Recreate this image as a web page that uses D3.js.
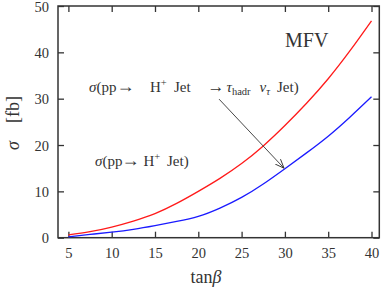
<!DOCTYPE html>
<html><head><meta charset="utf-8">
<script src="https://cdn.jsdelivr.net/npm/d3@7"></script>
<style>body{margin:0;background:#fff}svg{display:block}
.serif{font-family:"Liberation Serif","DejaVu Serif","Noto Serif","Tinos","Times New Roman","FreeSerif",Times,serif}</style>
</head><body>
<svg id="c" width="382" height="292"></svg>
<script>
const tanBeta = [5, 7.5, 10, 12.5, 15, 17.5, 20, 22.5, 25, 27.5, 30, 32.5, 35, 37.5, 40];
const sigmaTau = [0.6, 1.3, 2.3, 3.6, 5.2, 7.4, 10.0, 12.8, 16.0, 19.8, 24.2, 29.0, 34.3, 40.3, 46.8];
const sigmaHJet = [0.2, 0.7, 1.2, 1.8, 2.6, 3.5, 4.6, 6.4, 8.7, 11.6, 14.9, 18.3, 21.9, 26.0, 30.4];
const xTicks = [5, 10, 15, 20, 25, 30, 35, 40];
const yTicks = [0, 10, 20, 30, 40, 50];
const arrowFrom = [22.4, 29.9];
const arrowTo = [29.9, 15.0];

const svg = d3.select("#c");
const L = 58, R = 379.3, T = 6, B = 237.7;
const x = d3.scaleLinear().domain([3.8, 40.9]).range([L, R]);
const y = d3.scaleLinear().domain([0, 50]).range([B, T]);
const axisColor = "#333";
const textColor = "#333";

// Axes (ticks inward)
const tl = 6;
const gB = svg.append("g").attr("transform", `translate(0,${B})`)
  .call(d3.axisBottom(x).tickValues(xTicks).tickSizeInner(-tl).tickSizeOuter(0).tickPadding(10));
const gT = svg.append("g").attr("transform", `translate(0,${T})`)
  .call(d3.axisTop(x).tickValues(xTicks).tickSizeInner(-tl).tickSizeOuter(0).tickFormat(""));
const gL = svg.append("g").attr("transform", `translate(${L},0)`)
  .call(d3.axisLeft(y).tickValues(yTicks).tickSizeInner(-tl).tickSizeOuter(0).tickPadding(9));
const gR = svg.append("g").attr("transform", `translate(${R},0)`)
  .call(d3.axisRight(y).tickValues(yTicks).tickSizeInner(-tl).tickSizeOuter(0).tickFormat(""));
[gB, gT, gL, gR].forEach(g => {
  g.attr("font-family", null).attr("font-size", 14.5).attr("class", "serif");
  g.select(".domain").remove();
  g.selectAll(".tick line").attr("stroke", axisColor).attr("stroke-width", 1.3);
  g.selectAll(".tick text").attr("fill", textColor);
});
gL.selectAll(".tick text").attr("dy", "0.35em");
svg.append("rect").attr("x", L).attr("y", T).attr("width", R - L).attr("height", B - T)
  .attr("fill", "none").attr("stroke", axisColor).attr("stroke-width", 1.5);

// Curves
const line = vals => d3.line().x((d, i) => x(tanBeta[i])).y(d => y(d)).curve(d3.curveNatural)(vals);
svg.append("path").attr("d", line(sigmaTau)).attr("fill", "none").attr("stroke", "#ff1a1a").attr("stroke-width", 1.3);
svg.append("path").attr("d", line(sigmaHJet)).attr("fill", "none").attr("stroke", "#1a1aff").attr("stroke-width", 1.3);

// Arrow
svg.append("defs").append("marker").attr("id", "ah").attr("viewBox", "0 0 10 10")
  .attr("refX", 10).attr("refY", 5).attr("markerWidth", 9).attr("markerHeight", 9)
  .attr("markerUnits", "userSpaceOnUse").attr("orient", "auto")
  .append("path").attr("d", "M0,1 L10,5 L0,9").attr("fill", "none").attr("stroke", "#333").attr("stroke-width", 1);
svg.append("line").attr("x1", x(arrowFrom[0])).attr("y1", y(arrowFrom[1]))
  .attr("x2", x(arrowTo[0])).attr("y2", y(arrowTo[1]))
  .attr("stroke", "#333").attr("stroke-width", 0.9).attr("marker-end", "url(#ah)");

// Texts
const txt = (xx, yy, size) => svg.append("text").attr("x", xx).attr("y", yy).attr("fill", textColor)
  .attr("class", "serif").attr("font-size", size);

txt(285, 47, 20).text("MFV");

// annotation pieces: [text, x (null = flow), dy, size, italic]
function annot(t, base, pieces) {
  pieces.forEach(([s, px, dy, size, it]) => {
    const sp = t.append("tspan").attr("y", base + dy).attr("font-size", size)
      .attr("font-style", it ? "italic" : "normal").text(s);
    if (px !== null) sp.attr("x", px);
  });
}
const t1 = txt(89, 92, 15);
annot(t1, 92, [
  ["σ", 89, 0, 15, true], ["(pp", null, 0, 15, false], ["\u2192", 116.5, 0, 18, false],
  ["H", 150, 0, 15, false], ["+", null, -6, 10.5, false], ["Jet", 174, 0, 15, false],
  ["\u2192", 207.5, 0, 17, false], ["τ", 226.5, 0, 15, true], ["hadr", null, 3, 10.5, false],
  ["ν", 259.5, 0, 15, true], ["τ", null, 3, 10.5, true], ["Jet)", 277, 0, 15, false]
]);
const t2 = txt(95, 166, 15);
annot(t2, 166, [
  ["σ", 95, 0, 15, true], ["(pp", null, 0, 15, false], ["\u2192", 121.5, 0, 18, false],
  ["H", 143.5, 0, 15, false], ["+", null, -6, 10.5, false], ["Jet)", 167, 0, 15, false]
]);

// Axis titles
const yl = svg.append("text").attr("transform", "translate(19,123) rotate(-90)").attr("text-anchor", "middle")
  .attr("fill", textColor).attr("class", "serif").attr("font-size", 18);
yl.append("tspan").attr("font-style", "italic").text("σ");
yl.append("tspan").text("\u2003[fb]");

const xl = svg.append("text").attr("x", 206).attr("y", 283).attr("text-anchor", "middle")
  .attr("fill", textColor).attr("class", "serif").attr("font-size", 18);
xl.append("tspan").text("tan");
xl.append("tspan").attr("font-style", "italic").text("β");
</script>
</body></html>
